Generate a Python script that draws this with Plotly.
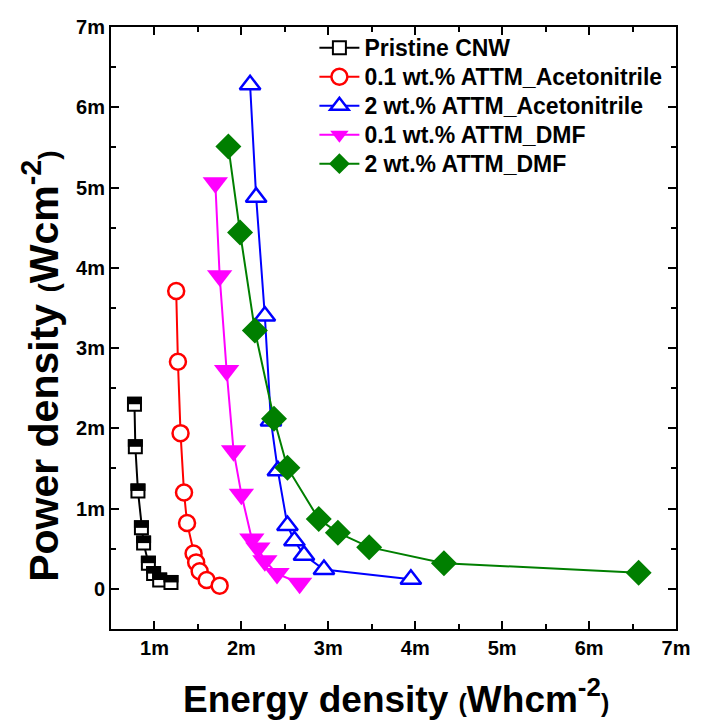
import plotly.graph_objects as go

# Values in milli-units (m = 1e-3): energy density (Wh cm^-2), power density (W cm^-2)
series_names = ["Pristine CNW", "0.1 wt.% ATTM_Acetonitrile", "2 wt.% ATTM_Acetonitrile",
                "0.1 wt.% ATTM_DMF", "2 wt.% ATTM_DMF"]

cnw_x = [0.77, 0.78, 0.81, 0.85, 0.875, 0.93, 0.99, 1.06, 1.19]
cnw_y = [2.30, 1.77, 1.22, 0.76, 0.57, 0.32, 0.19, 0.11, 0.08]

acn01_x = [1.25, 1.27, 1.30, 1.34, 1.375, 1.45, 1.48, 1.52, 1.60, 1.75]
acn01_y = [3.71, 2.83, 1.94, 1.20, 0.82, 0.44, 0.33, 0.22, 0.11, 0.04]

acn2_x = [2.10, 2.17, 2.27, 2.34, 2.42, 2.53, 2.61, 2.72, 2.95, 3.95]
acn2_y = [6.28, 4.88, 3.40, 2.09, 1.47, 0.79, 0.60, 0.42, 0.24, 0.12]

dmf01_x = [1.70, 1.75, 1.83, 1.91, 2.00, 2.12, 2.19, 2.27, 2.41, 2.67]
dmf01_y = [5.06, 3.90, 2.72, 1.72, 1.18, 0.62, 0.51, 0.35, 0.19, 0.07]

dmf2_x = [1.85, 1.985, 2.155, 2.375, 2.53, 2.89, 3.11, 3.47, 4.33, 6.57]
dmf2_y = [5.51, 4.44, 3.22, 2.12, 1.51, 0.87, 0.70, 0.52, 0.32, 0.20]

x_tickvals = [1, 2, 3, 4, 5, 6, 7]
x_ticktext = ["1m", "2m", "3m", "4m", "5m", "6m", "7m"]
y_tickvals = [0, 1, 2, 3, 4, 5, 6, 7]
y_ticktext = ["0", "1m", "2m", "3m", "4m", "5m", "6m", "7m"]

x_title = "Energy density <span style='font-size:25px'>(</span>Whcm<sup>-2</sup><span style='font-size:25px'>)</span>"
y_title = "Power density <span style='font-size:28px'>(</span>Wcm<sup>-2</sup><span style='font-size:28px'>)</span>"

X_RANGE = [0.5, 7.0]
Y_RANGE = [-0.5, 7.0]

W, H = 702, 724
M = dict(l=111, r=19, t=27, b=95)
plot_h = H - M["t"] - M["b"]
plot_w = W - M["l"] - M["r"]

FONT = "Liberation Sans, Arial, sans-serif"

def big(name):
    return "<span style='font-size:23px'>" + name + "</span>"

fig = go.Figure()

sq_size = 13
sq_border = 2
# half-filled square: white square with black border, plus black band on its top half
fig.add_trace(go.Scatter(
    x=cnw_x, y=cnw_y, mode="lines+markers", name=big(series_names[0]),
    line=dict(color="black", width=2),
    marker=dict(symbol="square", size=sq_size, color="white",
                line=dict(color="black", width=sq_border)),
    legendgroup="cnw"))
half_outer = sq_size / 2.0 + sq_border / 2.0
dy = (half_outer / 2.0) * (Y_RANGE[1] - Y_RANGE[0]) / plot_h
fig.add_trace(go.Scatter(
    x=cnw_x, y=[v + dy for v in cnw_y], mode="markers", showlegend=False,
    marker=dict(symbol="line-ew", size=2 * half_outer / 1.4,
                line=dict(color="black", width=half_outer)),
    legendgroup="cnw", hoverinfo="skip"))

fig.add_trace(go.Scatter(
    x=acn01_x, y=acn01_y, mode="lines+markers", name=big(series_names[1]),
    line=dict(color="#ff0000", width=2),
    marker=dict(symbol="circle", size=16, color="white",
                line=dict(color="#ff0000", width=2.5))))

fig.add_trace(go.Scatter(
    x=acn2_x, y=acn2_y, mode="lines+markers", name=big(series_names[2]),
    line=dict(color="#0000ff", width=2),
    marker=dict(symbol="triangle-up", size=18, color="white",
                line=dict(color="#0000ff", width=2.5))))

fig.add_trace(go.Scatter(
    x=dmf01_x, y=dmf01_y, mode="lines+markers", name=big(series_names[3]),
    line=dict(color="#ff00ff", width=2),
    marker=dict(symbol="triangle-down", size=22, color="#ff00ff",
                line=dict(color="#ff00ff", width=0))))

fig.add_trace(go.Scatter(
    x=dmf2_x, y=dmf2_y, mode="lines+markers", name=big(series_names[4]),
    line=dict(color="#007f00", width=2),
    marker=dict(symbol="diamond", size=20, color="#007f00",
                line=dict(color="#007f00", width=0))))

axis_common = dict(
    showgrid=False, zeroline=False, showline=True, linecolor="black", linewidth=2,
    mirror="ticks", ticks="inside", ticklen=8, tickwidth=2, tickcolor="black",
    tickfont=dict(family=FONT, size=20, color="black", weight="bold"),
    minor=dict(ticks="inside", ticklen=5, tickwidth=1.5, tickcolor="black", dtick=0.5),
)

fig.update_xaxes(range=X_RANGE, tickmode="array", tickvals=x_tickvals,
                 ticktext=x_ticktext, **axis_common)
fig.update_yaxes(range=Y_RANGE, tickmode="array", tickvals=y_tickvals,
                 ticktext=y_ticktext, **axis_common)

fig.add_annotation(text=x_title, xref="paper", yref="paper",
                   x=(400 - M["l"]) / plot_w, y=-(696 - (H - M["b"])) / plot_h,
                   xanchor="center", yanchor="middle", showarrow=False,
                   font=dict(family=FONT, size=37, color="black", weight="bold"))
fig.add_annotation(text=y_title, xref="paper", yref="paper", textangle=-90,
                   x=-(M["l"] - 40) / plot_w, y=1 - (366 - M["t"]) / plot_h,
                   xanchor="center", yanchor="middle", showarrow=False,
                   font=dict(family=FONT, size=41, color="black", weight="bold"))

fig.update_layout(
    width=W, height=H, margin=M,
    paper_bgcolor="white", plot_bgcolor="white",
    showlegend=True,
    legend=dict(x=0.36, y=0.998, xanchor="left", yanchor="top",
                bgcolor="rgba(0,0,0,0)", borderwidth=0,
                font=dict(family=FONT, size=20, color="black", weight="bold"),
                tracegroupgap=0, itemwidth=40),
    font=dict(family=FONT),
)

fig.write_html("out.html")
